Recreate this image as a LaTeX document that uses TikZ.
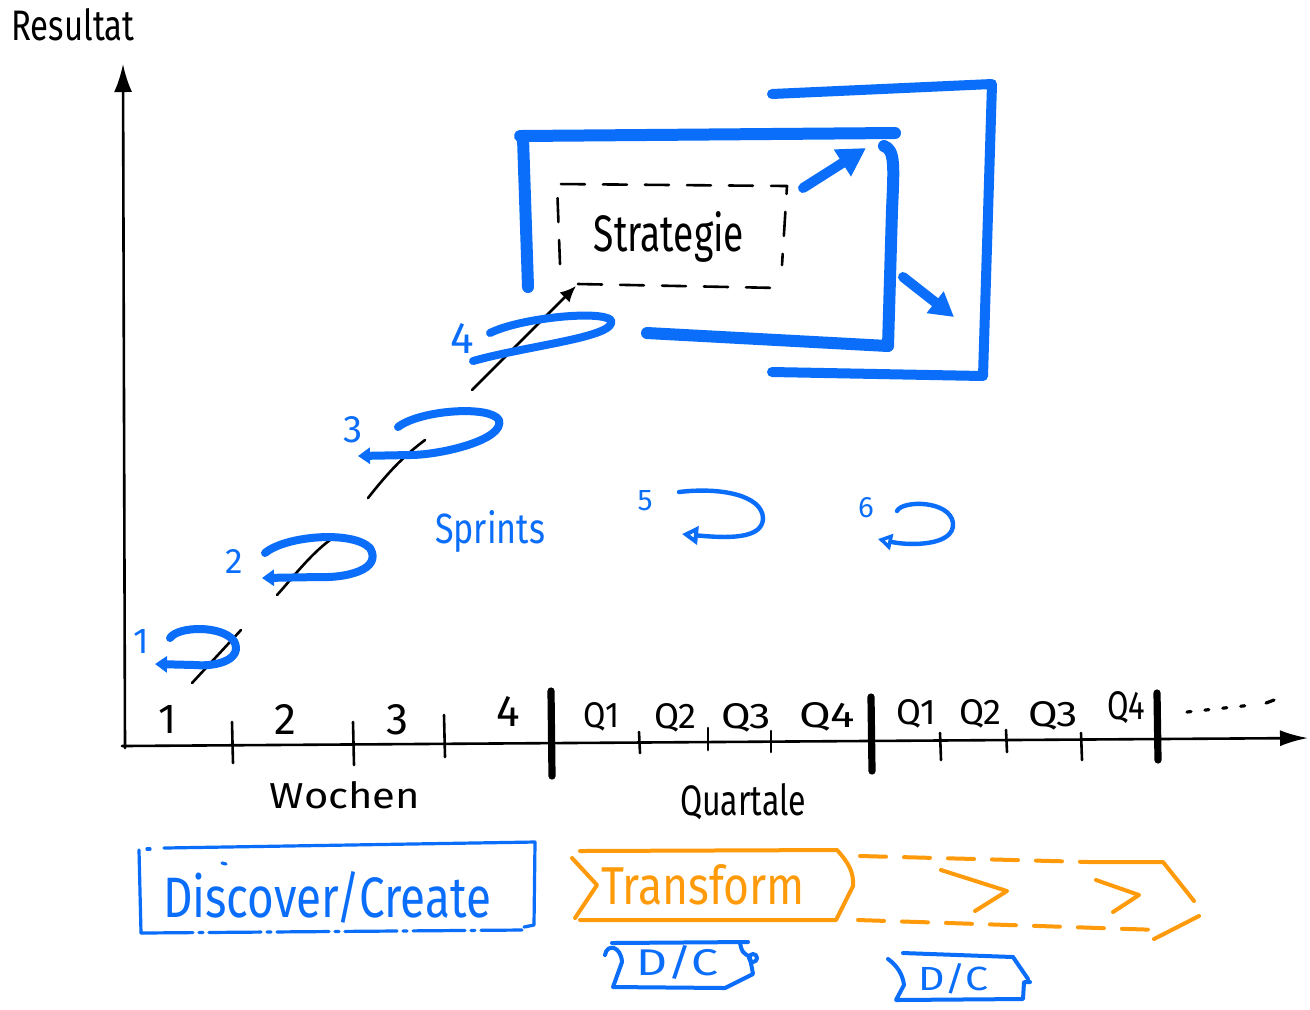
\documentclass[tikz,border=0pt]{standalone}
\usepackage{fontspec}
\setmainfont{Fira Sans}
\usetikzlibrary{arrows.meta}
\definecolor{blu}{RGB}{10,110,250}
\definecolor{org}{RGB}{255,155,10}
\newcommand\hw[3]{\resizebox{#1pt}{#2pt}{#3}}
\newcommand\hh[2]{\resizebox{!}{#1pt}{#2}}
\begin{document}
\begin{tikzpicture}[x=0.5pt,y=-0.5pt,
  ax/.style={line width=1.3pt,black,line cap=round,line join=round},
  bar/.style={line width=3.6pt,black,line cap=round},
  thk/.style={line width=6pt,blu,line cap=round,line join=round},
  lp/.style={line width=4pt,blu,line cap=round,line join=round},
  thin/.style={line width=2pt,blu,line cap=round,line join=round},
  orl/.style={line width=2pt,org,line cap=round,line join=round},
  txt/.style={inner sep=0pt,anchor=base},
  btxt/.style={inner sep=0pt,anchor=base,text=blu},
  otxt/.style={inner sep=0pt,anchor=base,text=org}]
\useasboundingbox (0,0) rectangle (1310,1009);
\fill[white] (0,0) rectangle (1310,1009);

% ---------- axes
\coordinate (o) at (122,746);
\coordinate (ytop) at (123,64);
\coordinate (xend) at (1308,738);
\draw[ax,-{Latex[length=14pt,width=9pt]}] (125,748) -- (ytop);
\draw[ax,-{Latex[length=14pt,width=8pt]}] (o) -- (xend);
\node[txt] (res) at (73,40) {\hw{61.5}{16}{Resultat}};

% ticks
\draw[ax] (232,722) -- (233,763);
\draw[ax] (353,722) -- (354,765);
\draw[ax] (444,715) -- (445,757);
\draw[ax] (639,732) -- (640,753);
\draw[ax] (708,728) -- (708,750);
\draw[ax] (771,731) -- (771,752);
\draw[ax] (940,733) -- (941,760);
\draw[ax] (1006,730) -- (1007,752);
\draw[ax] (1081,733) -- (1082,760);
\draw[bar] (551,691) -- (552,776);
\draw[bar] (871,697) -- (872,771);
\draw[bar] (1157,693) -- (1158,760);

% tick labels
\node[txt] (w1) at (168,733) {\hh{14}{1}};
\node[txt] (w2) at (285,734) {\hh{15}{2}};
\node[txt] (w3) at (398,734) {\hh{15}{3}};
\node[txt] (w4) at (508,726) {\hh{15}{4}};
\node[txt] (q1) at (601,727) {\hw{18}{12.5}{Q1}};
\node[txt] (q2) at (675,728) {\hw{21}{12.5}{Q2}};
\node[txt] (q3) at (746,728) {\hw{25}{12.5}{Q3}};
\node[txt] (q4) at (827,727) {\hw{28}{12.5}{Q4}};
\node[txt] (r1) at (916,724) {\hw{20}{12.5}{Q1}};
\node[txt] (r2) at (980,724) {\hw{21}{12.5}{Q2}};
\node[txt] (r3) at (1053,726) {\hw{25}{12.5}{Q3}};
\node[txt] (r4) at (1126,719) {\hw{19}{14}{Q4}};
\draw[ax,line width=1.6pt,dash pattern=on 2pt off 7pt] (1187,712) -- (1252,705);
\draw[ax,line width=1.6pt] (1266,703) -- (1274,700);

\node[txt] (woch) at (345,808) {\hw{75}{13.5}{Wochen}};
\node[txt] (quart) at (743,815) {\hw{63}{16}{Quartale}};

% ---------- black progression lines
\draw[ax] (192,683) -- (241,630);
\draw[ax] (277,595) .. controls (295,575) and (310,555) .. (330,540);
\draw[ax] (368,498) .. controls (390,470) and (405,455) .. (425,440);
\coordinate (s4a) at (472,390);
\coordinate (s4b) at (576,286);
\draw[ax,-{Latex[length=8pt,width=7pt]}] (s4a) -- (s4b);

% ---------- sprint loops
\draw[lp,-{Triangle[length=6pt,width=8pt]}] (170,638) .. controls (178,626) and (222,625) .. (234,641)
   .. controls (243,658) and (220,667) .. (195,665) -- (155,664);
\draw[lp,-{Triangle[length=6pt,width=8pt]}] (265,553) .. controls (285,536) and (352,530) .. (370,548)
   .. controls (383,570) and (345,578) .. (320,577) -- (262,578);
\draw[lp,-{Triangle[length=6pt,width=8pt]}] (398,427) .. controls (420,410) and (490,405) .. (499,420)
   .. controls (505,440) and (440,455) .. (410,455) -- (358,456);
\draw[lp] (490,333) .. controls (520,318) and (600,310) .. (611,320)
   .. controls (618,337) and (530,345) .. (473,361);

\node[inner sep=0pt,text=blu] (n1) at (141,641) {\hh{12}{1}};
\node[inner sep=0pt,text=blu] (n2) at (234,561) {\hh{12}{2}};
\node[inner sep=0pt,text=blu] (n3) at (353,430) {\hh{13}{3}};
\node[inner sep=0pt,text=blu] (n4) at (462,338) {\hh{15}{4}};
\node[inner sep=0pt,text=blu] (n5) at (645,501) {\hh{10}{5}};
\node[inner sep=0pt,text=blu] (n6) at (866,508) {\hh{10}{6}};
\node[btxt] (spr) at (490,543) {\hw{55}{16.5}{Sprints}};

\draw[thin,line width=2.2pt,-{Triangle[open,length=8pt,width=9pt]}] (679,492) .. controls (720,487) and (762,495) .. (763,518)
   .. controls (763,540) and (725,538) .. (682,534);
\draw[thin,line width=2.2pt,-{Triangle[open,length=7pt,width=8pt]}] (897,511) .. controls (902,500) and (950,500) .. (953,523)
   .. controls (955,546) and (910,546) .. (878,539);

% ---------- strategy
\draw[ax,dash pattern=on 12pt off 9pt] (560,264) -- (557,184) -- (787,186) -- (782,265);
\draw[ax,dash pattern=on 12pt off 9pt] (578,284) -- (780,288);
\node[txt] (strat) at (669,251) {\hw{75}{20}{Strategie}};

\draw[thk] (528,287) -- (523,138) -- (520,136) -- (895,133);
\draw[thk] (884,146) .. controls (895,150) and (894,165) .. (892,210) -- (888,346) -- (647,333);
\draw[thk,line width=5pt] (772,94) -- (992,84) -- (983,376) -- (772,372);
\coordinate (ua) at (803,188);
\coordinate (ub) at (866,148);
\draw[thk,line width=5pt,-{Triangle[length=14pt,width=15pt]}] (ua) -- (ub);
\coordinate (da) at (903,277);
\coordinate (db) at (954,317);
\draw[thk,line width=5pt,-{Triangle[length=12pt,width=13pt]}] (da) -- (db);

% ---------- Discover / Create
\draw[thin,line width=1.6pt] (139,850) -- (141,933);
\draw[thin,line width=1.6pt] (147,849) -- (150,849);
\draw[thin,line width=1.6pt] (164,848) -- (535,842) -- (534,925) -- (524,927);
\draw[thin,line width=1.6pt,dash pattern=on 26pt off 3pt on 2pt off 3pt] (141,933) -- (522,930);
\draw[thin,line width=1.6pt] (222,863) -- (226,864);
\node[btxt] (disc) at (327,917) {\hw{164}{23}{Discover/Create}};

% ---------- Transform
\draw[orl] (580,851) -- (837,850) .. controls (848,862) and (854,872) .. (853,886) -- (836,920) -- (580,920);
\draw[orl] (572,858) -- (597,885) -- (575,918);
\node[otxt] (trans) at (703,904) {\hw{102}{20}{Transform}};
\draw[orl,dash pattern=on 13pt off 9pt] (860,856) -- (1090,862);
\draw[orl] (1090,862) -- (1163,862) -- (1194,901);
\draw[orl,dash pattern=on 13pt off 9pt] (858,920) -- (1160,930);
\draw[orl] (1199,916) -- (1154,939);
\draw[orl] (941,870) -- (1007,891) -- (975,911);
\draw[orl] (1096,880) -- (1139,895) -- (1113,912);

% ---------- D/C boxes
\draw[thin] (612,943) -- (748,942);
\draw[thin] (605,955) .. controls (607,943) and (621,946) .. (622,962) -- (613,987) -- (725,988) -- (753,974) -- (750,958);
\draw[thin] (740,943) .. controls (742,952) .. (750,957);
\draw[thin] (753,958) circle (2pt);
\node[btxt] (dc1) at (677,975) {\hw{41}{15}{D/C}};

\draw[thin] (903,953) -- (1013,957);
\draw[thin] (888,959) .. controls (898,966) and (903,976) .. (904,985) -- (896,1000) -- (1023,999) -- (1024,982) -- (1030,982);
\draw[thin] (1013,957) -- (1028,979);
\node[btxt] (dc2) at (953,990) {\hw{35}{13.5}{D/C}};
\end{tikzpicture}
\end{document}
